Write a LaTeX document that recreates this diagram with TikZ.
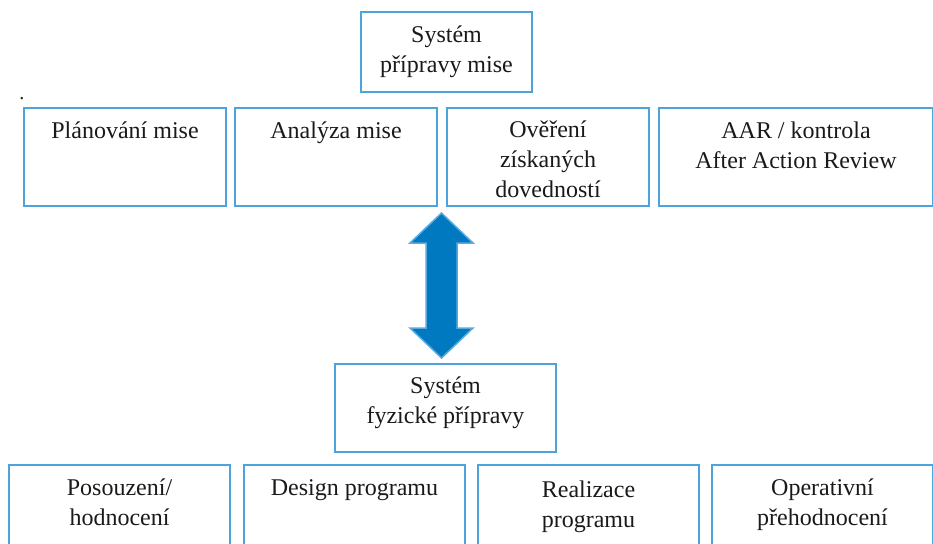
\documentclass[tikz,border=0pt]{standalone}
\usepackage{fontspec}
\setmainfont{Liberation Serif}
\definecolor{boxline}{HTML}{4DA3DB}
\definecolor{arrowfill}{HTML}{0079C1}
\definecolor{arrowline}{HTML}{5AAAE0}
\definecolor{txt}{HTML}{1A1A1A}
\begin{document}
\begin{tikzpicture}[x=1pt,y=-1pt,
  box/.style={draw=boxline, line width=2pt, fill=white, inner sep=0pt, anchor=north west},
  lbl/.style={text=txt, font=\fontsize{24}{30}\selectfont, align=center, inner sep=0pt, anchor=base}]
\useasboundingbox (0,0) rectangle (933,543);
\clip (0,0) rectangle (933,543);

% top: mission preparation system (base anchor = last line's baseline)
\node[box, minimum width=171pt, minimum height=80pt] (mise) at (360,11) {};
\node[lbl] (miseT) at ([yshift=-61pt]mise.north) {Systém\\přípravy mise};

\node[lbl, font=\fontsize{20}{22}\selectfont] (dot) at (22,99) {.};

% first row
\node[box, minimum width=202pt, minimum height=98pt] (plan) at (23,107) {};
\node[box, minimum width=202pt, minimum height=98pt] (anal) at (234,107) {};
\node[box, minimum width=202pt, minimum height=98pt] (over) at (446,107) {};
\node[box, minimum width=274pt, minimum height=98pt] (aar) at (658,107) {};
\node[lbl] (planT) at ([yshift=-31pt]plan.north) {Plánování mise};
\node[lbl] (analT) at ([yshift=-31pt]anal.north) {Analýza mise};
\node[lbl] (overT) at ([yshift=-90pt]over.north) {Ověření\\získaných\\dovedností};
\node[lbl] (aarT) at ([yshift=-61pt]aar.north) {AAR / kontrola\\After Action Review};

% physical preparation system
\node[box, minimum width=221pt, minimum height=88pt] (fyz) at (334,363) {};
\node[lbl] (fyzT) at ([yshift=-60pt]fyz.north) {Systém\\fyzické přípravy};

% second row (runs past the lower edge)
\node[box, minimum width=221pt, minimum height=100pt] (pos) at (8,464) {};
\node[box, minimum width=221pt, minimum height=100pt] (des) at (243,464) {};
\node[box, minimum width=221pt, minimum height=100pt] (real) at (477,464) {};
\node[box, minimum width=221pt, minimum height=100pt] (oper) at (711,464) {};
\node[lbl] (posT) at ([yshift=-61pt]pos.north) {Posouzení/\\hodnocení};
\node[lbl] (desT) at ([yshift=-31pt]des.north) {Design programu};
\node[lbl] (realT) at ([yshift=-63pt]real.north) {Realizace\\programu};
\node[lbl] (operT) at ([yshift=-61pt]oper.north) {Operativní\\přehodnocení};

% block double arrow between the two systems
\coordinate (tipA) at (441.5,213);
\coordinate (tipB) at (441.5,358);
\filldraw[fill=arrowfill, draw=arrowline, line width=1.5pt, line join=miter]
  (tipA) -- ++(31.5,30) -- ++(-16,0) -- ++(0,85) -- ++(16,0) -- (tipB)
  -- ++(-31.5,-30) -- ++(16,0) -- ++(0,-85) -- ++(-16,0) -- cycle;
\end{tikzpicture}
\end{document}
